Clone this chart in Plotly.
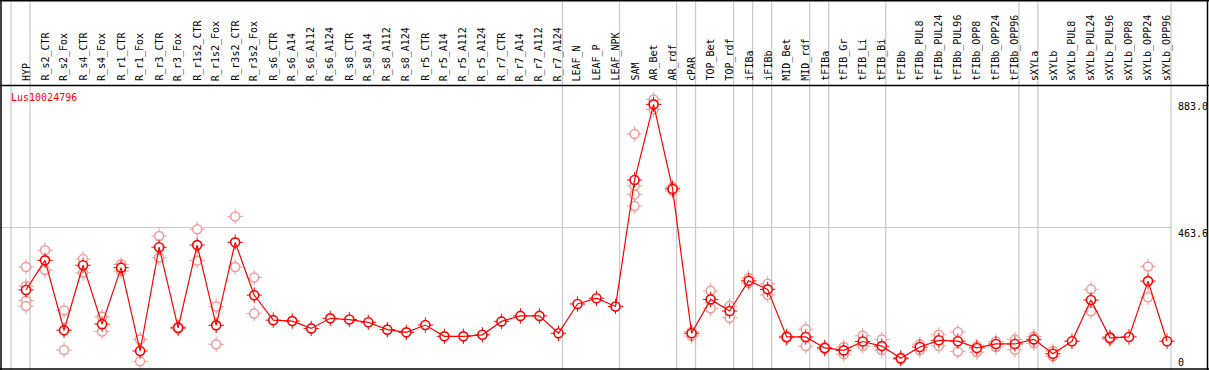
import plotly.graph_objects as go

categories = ["HYP", "R_s2_CTR", "R_s2_Fox", "R_s4_CTR", "R_s4_Fox", "R_r1_CTR", "R_r1_Fox",
              "R_r3_CTR", "R_r3_Fox", "R_r1s2_CTR", "R_r1s2_Fox", "R_r3s2_CTR", "R_r3s2_Fox",
              "R_s6_CTR", "R_s6_A14", "R_s6_A112", "R_s6_A124", "R_s8_CTR", "R_s8_A14",
              "R_s8_A112", "R_s8_A124", "R_r5_CTR", "R_r5_A14", "R_r5_A112", "R_r5_A124",
              "R_r7_CTR", "R_r7_A14", "R_r7_A112", "R_r7_A124", "LEAF_N", "LEAF_P", "LEAF_NPK",
              "SAM", "AR_Bet", "AR_rdf", "cPAR", "TOP_Bet", "TOP_rdf", "iFIBa", "iFIBb",
              "MID_Bet", "MID_rdf", "tFIBa", "tFIB_Gr", "tFIB_Li", "tFIB_Bi", "tFIBb",
              "tFIBb_PUL8", "tFIBb_PUL24", "tFIBb_PUL96", "tFIBb_OPP8", "tFIBb_OPP24",
              "tFIBb_OPP96", "sXYLa", "sXYLb", "sXYLb_PUL8", "sXYLb_PUL24", "sXYLb_PUL96",
              "sXYLb_OPP8", "sXYLb_OPP24", "sXYLb_OPP96"]

means = [259, 356, 127, 340, 147, 332, 59, 399, 135, 406, 143, 415, 242,
         160, 157, 133, 166, 162, 153, 129, 120, 144, 107, 107, 112, 156, 174, 174, 117,
         213, 232, 205, 619, 867, 590, 117, 228, 190, 289, 261, 105, 105, 69, 61, 90, 75,
         35, 72, 94, 91, 69, 82, 82, 97, 50, 91, 226, 102, 105, 288, 91]

replicates = [[334, 272, 224, 206], [389, 324], [192, 62], [360, 315], [171, 123], [343, 321],
              [97, 25], [436, 365], [138, 132], [458, 355], [205, 81], [500, 334], [300, 182],
              [], [], [], [], [], [], [], [], [], [], [], [], [], [], [], [], [], [], [],
              [770, 600, 572, 534], [883, 851], [596, 583], [122, 108], [256, 199], [206, 168],
              [298, 282], [279, 243], [108, 101], [130, 75], [72, 65], [72, 48], [109, 75],
              [97, 62], [38, 32], [81, 62], [112, 76], [121, 57], [75, 55], [90, 72], [97, 63],
              [106, 84], [59, 42], [], [261, 189], [106, 97], [], [336, 235], []]

group_ends = [-1, 0, 28, 31, 34, 35, 37, 38, 39, 41, 42, 45, 52, 53, 60]
y_ticks = [883.0, 463.6, 0]
y_tick_labels = ["883.0", "463.6", "0"]
gene = "Lus10024796"

W, H = 1209, 370
X0_PX, DX_PX = 26.0, 19.017
Y_SCALE = 927.2 / 283.0      # value units per pixel
Y_BASE_PX = 369.0            # pixel row of value 0

x_range = [-X0_PX / DX_PX, (W - X0_PX) / DX_PX]
y_range = [(Y_BASE_PX - H) * Y_SCALE, Y_BASE_PX * Y_SCALE]

idx = list(range(len(categories)))
rx, ry = [], []
for i, reps in enumerate(replicates):
    for v in reps:
        rx.append(i)
        ry.append(v)

RED = "#FF0000"
PINK = "#F09A9A"
GRID = "#C8C8C8"
FONT = "DejaVu Sans Mono"

fig = go.Figure()
# replicate markers
fig.add_trace(go.Scatter(x=rx, y=ry, mode="markers", hoverinfo="skip",
                         marker=dict(symbol="cross-thin-open", size=11, color=PINK,
                                     line=dict(color=PINK, width=1))))
fig.add_trace(go.Scatter(x=rx, y=ry, mode="markers", hoverinfo="skip",
                         marker=dict(symbol="circle", size=9, color="white", line=dict(color=PINK, width=1.5))))
# mean markers
fig.add_trace(go.Scatter(x=idx, y=means, mode="markers", hoverinfo="skip",
                         marker=dict(symbol="cross-thin-open", size=11, color=RED,
                                     line=dict(color=RED, width=1))))
fig.add_trace(go.Scatter(x=idx, y=means, mode="markers", hoverinfo="skip",
                         marker=dict(symbol="circle", size=9, color="white", line=dict(color=RED, width=1.6))))
fig.add_trace(go.Scatter(x=idx, y=means, mode="lines", hoverinfo="skip",
                         line=dict(color=RED, width=1.2)))

shapes = []
for g in group_ends:
    shapes.append(dict(type="line", xref="x", yref="paper", x0=g + 0.21, x1=g + 0.21, y0=0, y1=1,
                       line=dict(color=GRID, width=1.2), layer="below"))
shapes.append(dict(type="line", xref="x", yref="y", x0=x_range[0], x1=60.21, y0=y_ticks[1], y1=y_ticks[1],
                   line=dict(color=GRID, width=1.2), layer="below"))


def hline(py, w=1.5):
    return dict(type="line", xref="paper", yref="paper", x0=0, x1=1, y0=1 - py / H, y1=1 - py / H,
                line=dict(color="black", width=w), layer="above")


def vline(px, w=1.5):
    return dict(type="line", xref="paper", yref="paper", x0=px / W, x1=px / W, y0=0, y1=1,
                line=dict(color="black", width=w), layer="above")


shapes += [hline(0.8), hline(85.5), hline(369.0), vline(1.0), vline(1207.5)]

annotations = []
label_y = (Y_BASE_PX - 83) * Y_SCALE
for i, c in enumerate(categories):
    annotations.append(dict(x=i, y=label_y, xref="x", yref="y", text=c, showarrow=False,
                            textangle=-90, xanchor="center", yanchor="bottom",
                            font=dict(family=FONT, size=10, color="black")))
annotations.append(dict(x=9 / W, y=1 - 97 / H, xref="paper", yref="paper", text=gene, showarrow=False,
                        xanchor="left", yanchor="middle", font=dict(family=FONT, size=10, color=RED)))
label_px = [107, 233, 362]
for t, py in zip(y_tick_labels, label_px):
    annotations.append(dict(x=1176 / W, y=1 - py / H, xref="paper", yref="paper", text=t, showarrow=False,
                            xanchor="left", yanchor="middle", font=dict(family=FONT, size=10, color="black")))

fig.update_layout(
    width=W, height=H, margin=dict(l=0, r=0, t=0, b=0, pad=0),
    paper_bgcolor="white", plot_bgcolor="white", showlegend=False,
    xaxis=dict(range=x_range, visible=False, fixedrange=True),
    yaxis=dict(range=y_range, visible=False, fixedrange=True),
    shapes=shapes, annotations=annotations,
)

fig.write_html("out.html", config={"displayModeBar": False},
               post_script="document.body.style.margin='0px';document.body.style.padding='0px';"
                           "document.body.style.overflow='hidden';")
